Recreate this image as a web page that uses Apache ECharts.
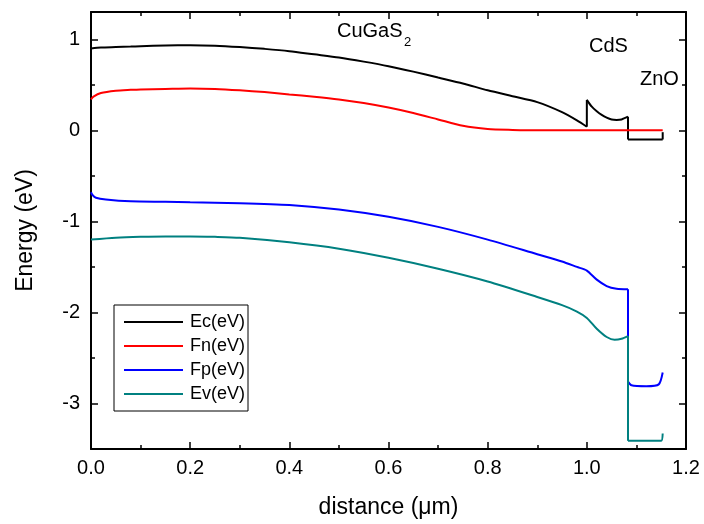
<!DOCTYPE html>
<html>
<head>
<meta charset="utf-8">
<script src="https://cdn.jsdelivr.net/npm/echarts@6/dist/echarts.min.js"></script>
<style>html,body{margin:0;padding:0;background:#fff}#c{width:704px;height:524px}</style>
</head>
<body>
<div id="c"></div>
<script>
// ---- data ----
var xEc = [0, 0.02, 0.05, 0.08, 0.1, 0.15, 0.2, 0.25, 0.3, 0.35, 0.4, 0.45, 0.5, 0.55, 0.6, 0.65, 0.7, 0.75, 0.8, 0.85, 0.9, 0.95, 0.98, 1.0, 1.0, 1.01, 1.02, 1.03, 1.04, 1.05, 1.06, 1.07, 1.083, 1.083, 1.153, 1.153];
var yEc = [0.90, 0.91, 0.915, 0.92, 0.925, 0.932, 0.935, 0.93, 0.915, 0.895, 0.87, 0.835, 0.80, 0.755, 0.705, 0.645, 0.58, 0.515, 0.44, 0.375, 0.31, 0.20, 0.11, 0.04, 0.335, 0.26, 0.21, 0.17, 0.14, 0.12, 0.115, 0.12, 0.15, -0.10, -0.10, -0.02];

var xFn = [0, 0.005, 0.02, 0.05, 0.08, 0.1, 0.15, 0.2, 0.25, 0.3, 0.35, 0.4, 0.45, 0.5, 0.55, 0.6, 0.65, 0.7, 0.75, 0.8, 0.85, 0.9, 1.0, 1.1, 1.153];
var yFn = [0.34, 0.37, 0.41, 0.435, 0.445, 0.45, 0.455, 0.46, 0.455, 0.44, 0.42, 0.395, 0.37, 0.34, 0.30, 0.25, 0.19, 0.12, 0.05, 0.015, 0.005, 0, 0, 0, 0];

var xFp = [0, 0.003, 0.01, 0.03, 0.08, 0.15, 0.2, 0.3, 0.4, 0.5, 0.6, 0.7, 0.8, 0.9, 0.95, 0.98, 1.0, 1.02, 1.04, 1.06, 1.083, 1.083, 1.09, 1.12, 1.145, 1.153];
var yFp = [-0.68, -0.71, -0.74, -0.76, -0.78, -0.785, -0.79, -0.80, -0.82, -0.87, -0.95, -1.06, -1.20, -1.36, -1.44, -1.50, -1.54, -1.64, -1.71, -1.74, -1.745, -2.76, -2.80, -2.81, -2.79, -2.66];

var xEv = [0, 0.05, 0.1, 0.15, 0.2, 0.25, 0.3, 0.4, 0.5, 0.6, 0.7, 0.8, 0.9, 0.95, 0.98, 1.0, 1.02, 1.04, 1.056, 1.07, 1.083, 1.083, 1.1, 1.13, 1.15, 1.153];
var yEv = [-1.20, -1.18, -1.17, -1.165, -1.165, -1.17, -1.18, -1.23, -1.30, -1.40, -1.52, -1.66, -1.83, -1.92, -1.99, -2.06, -2.18, -2.27, -2.30, -2.29, -2.26, -3.41, -3.41, -3.41, -3.41, -3.33];

var seriesNames = ['Ec(eV)', 'Fn(eV)', 'Fp(eV)', 'Ev(eV)'];
var seriesColors = ['#000000', '#ff0000', '#0000ff', '#008080'];
var xTicks = [0, 0.2, 0.4, 0.6, 0.8, 1.0, 1.2];
var yTicks = [-3, -2, -1, 0, 1];
var yMinorTicks = [-3.5, -2.5, -1.5, -0.5, 0.5];
var annotations = ['CuGaS', '2', 'CdS', 'ZnO'];

var allX = [xEc, xFn, xFp, xEv];
var allY = [yEc, yFn, yFp, yEv];

// split a curve into smooth runs and straight vertical jumps
function buildSeries(name, color, xs, ys) {
  var out = [];
  var run = [[xs[0], ys[0]]];
  function mk(data, smooth) {
    out.push({
      name: name, type: 'line', data: data, showSymbol: false, symbol: 'none',
      smooth: smooth, lineStyle: { color: color, width: 2 }, itemStyle: { color: color },
      animation: false, z: 3
    });
  }
  for (var i = 1; i < xs.length; i++) {
    if (xs[i] === xs[i - 1]) {
      if (run.length > 1) mk(run, 0.25);
      mk([[xs[i - 1], ys[i - 1]], [xs[i], ys[i]]], false);
      run = [[xs[i], ys[i]]];
    } else {
      run.push([xs[i], ys[i]]);
    }
  }
  if (run.length > 1) mk(run, 0.25);
  return out;
}

var FONT = 'Liberation Sans, Arial, sans-serif';
var chart = echarts.init(document.getElementById('c'), null, { renderer: 'canvas' });

function xAx(pos, labels) {
  return {
    type: 'value', position: pos, min: xTicks[0], max: xTicks[xTicks.length - 1], interval: 0.2,
    axisLine: { show: true, onZero: false, lineStyle: { color: '#000', width: 2 } },
    axisTick: { show: true, inside: true, length: 7, lineStyle: { color: '#000', width: 1.5 } },
    minorTick: { show: true, splitNumber: 2, length: 4, lineStyle: { color: '#000', width: 1.5 } },
    splitLine: { show: false },
    axisLabel: { show: labels, color: '#000', fontSize: 20, fontFamily: FONT, margin: 9,
      formatter: function (v) { return v.toFixed(1); } },
    name: labels ? 'distance (\u03bcm)' : '', nameLocation: 'middle', nameGap: 47,
    nameTextStyle: { color: '#000', fontSize: 23, fontFamily: FONT }
  };
}
function yAx(pos, labels, ticks, len, line) {
  return {
    type: 'value', position: pos, min: -3.5, max: 1.3,
    axisLine: { show: line, onZero: false, lineStyle: { color: '#000', width: 2 } },
    axisTick: { show: true, inside: true, length: len, customValues: ticks, lineStyle: { color: '#000', width: 1.5 } },
    splitLine: { show: false },
    axisLabel: { show: labels, customValues: ticks, color: '#000', fontSize: 20, fontFamily: FONT, margin: 11 },
    name: labels ? 'Energy (eV)' : '', nameLocation: 'middle', nameGap: 54,
    nameTextStyle: { color: '#000', fontSize: 23, fontFamily: FONT }
  };
}

var series = [];
seriesNames.forEach(function (n, i) {
  series = series.concat(buildSeries(n, seriesColors[i], allX[i], allY[i]));
});

chart.setOption({
  animation: false,
  backgroundColor: '#fff',
  grid: { left: 91, right: 18, top: 12, bottom: 71, containLabel: false },
  xAxis: [xAx('bottom', true), xAx('top', false)],
  yAxis: [
    yAx('left', true, yTicks, 7, true),
    yAx('right', false, yTicks, 7, true),
    yAx('left', false, yMinorTicks, 4, false),
    yAx('right', false, yMinorTicks, 4, false)
  ],
  legend: {
    data: seriesNames, orient: 'vertical', left: 114, top: 305,
    borderColor: '#000', borderWidth: 1, borderRadius: 0, padding: [5, 3, 5, 10],
    backgroundColor: '#fff', icon: 'rect',
    itemWidth: 59, itemHeight: 2, itemGap: 0,
    textStyle: { color: '#000', fontSize: 18, fontFamily: FONT, lineHeight: 24, padding: [0, 0, 0, 2] }
  },
  graphic: [
    { type: 'text', left: 337, top: 21, style: { text: annotations[0], fontSize: 20, fontFamily: FONT, fill: '#000' } },
    { type: 'text', left: 404, top: 36, style: { text: annotations[1], fontSize: 13, fontFamily: FONT, fill: '#000' } },
    { type: 'text', left: 589, top: 36, style: { text: annotations[2], fontSize: 20, fontFamily: FONT, fill: '#000' } },
    { type: 'text', left: 640, top: 69, style: { text: annotations[3], fontSize: 20, fontFamily: FONT, fill: '#000' } }
  ],
  series: series
});
</script>
</body>
</html>
